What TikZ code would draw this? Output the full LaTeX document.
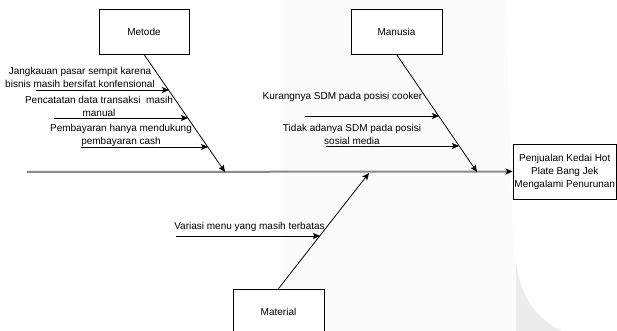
\documentclass[tikz,border=0pt]{standalone}
\usepackage{fontspec}
\setmainfont{Liberation Sans}
\usetikzlibrary{arrows.meta}
\definecolor{spinegray}{HTML}{8A8A8A}
\definecolor{wmlight}{HTML}{FBFBFB}
\definecolor{wmdark}{HTML}{ECECEC}
\begin{document}
\begin{tikzpicture}[x=1pt,y=-1pt,
  font=\fontsize{10}{13}\selectfont,
  box/.style={draw=black, line width=0.8pt, fill=white, align=center, inner sep=0pt},
  bone/.style={draw=black, line width=0.8pt, -{Stealth[length=7pt,width=6pt,inset=1.5pt]}},
  spine/.style={draw=spinegray, line width=2pt, -{Stealth[length=7pt,width=6pt,inset=1.5pt,color=black]}},
  lbl/.style={align=center, inner sep=0pt}]
\useasboundingbox (0,0) rectangle (617,331);
\fill[white] (0,0) rectangle (617,331);
% faint watermark
\fill[wmlight] (283,0) -- (506,0) -- (513,250) .. controls (516,290) and (530,315) .. (562,331) -- (283,331) -- cycle;
\fill[wmdark] (516,262) .. controls (520,295) and (535,318) .. (562,331) -- (516,331) -- cycle;

% category boxes
\node[box, minimum width=90pt, minimum height=45pt] (met) at (144,31.5) {Metode};
\node[box, minimum width=91pt, minimum height=45pt] (man) at (396.5,31.5) {Manusia};
\node[box, minimum width=91pt, minimum height=46pt] (mat) at (278.5,312) {Material};
\node[box, minimum width=103.5pt, minimum height=55pt] (eff) at (564.75,171.5)
  {Penjualan Kedai Hot\\Plate Bang Jek\\Mengalami Penurunan};

% spine
\coordinate (spst) at (27,172);
\draw[spine] (spst) -- (eff.west);

% main bones
\coordinate (mettip) at (225,172);
\coordinate (mantip) at (477,172);
\coordinate (mattip) at (369,173);
\draw[bone] (met.south) -- (mettip);
\draw[bone] (man.south) -- (mantip);
\draw[bone] (mat.north) -- (mattip);

% Metode causes
\coordinate (a1s) at (36,90);  \coordinate (a1e) at (169,90);
\coordinate (a2s) at (54,118); \coordinate (a2e) at (188,118);
\coordinate (a3s) at (81,147); \coordinate (a3e) at (208,147);
\draw[bone] (a1s) -- (a1e);
\draw[bone] (a2s) -- (a2e);
\draw[bone] (a3s) -- (a3e);
\node[lbl] (t1) at (80,77) {Jangkauan pasar sempit karena\\bisnis masih bersifat konfensional};
\node[lbl] (t2) at (99,106) {Pencatatan data transaksi\ \ masih\\manual};
\node[lbl] (t3) at (121,135) {Pembayaran hanya mendukung\\pembayaran cash};

% Manusia causes
\coordinate (b1s) at (305,116); \coordinate (b1e) at (439,116);
\coordinate (b2s) at (326,146); \coordinate (b2e) at (459,146);
\draw[bone] (b1s) -- (b1e);
\draw[bone] (b2s) -- (b2e);
\node[lbl] (u1) at (342.5,97) {Kurangnya SDM pada posisi cooker};
\node[lbl] (u2) at (352,134) {Tidak adanya SDM pada posisi\\sosial media};

% Material causes
\coordinate (c1s) at (176,236); \coordinate (c1e) at (320,236);
\draw[bone] (c1s) -- (c1e);
\node[lbl] (v1) at (249.5,227) {Variasi menu yang masih terbatas};
\end{tikzpicture}
\end{document}
